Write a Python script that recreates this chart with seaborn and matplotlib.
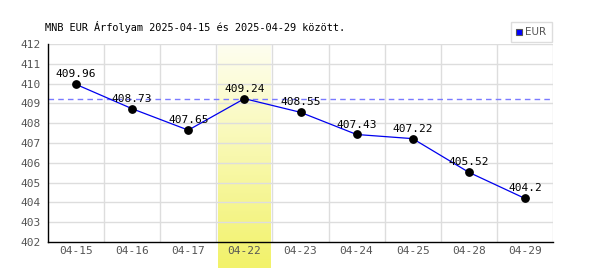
import numpy as np
import pandas as pd
import matplotlib
matplotlib.use("Agg")
import matplotlib.pyplot as plt
import seaborn as sns
from matplotlib.colors import LinearSegmentedColormap
from matplotlib.patches import Rectangle

dates = ["04-15", "04-16", "04-17", "04-22", "04-23", "04-24", "04-25", "04-28", "04-29"]
rates = [409.96, 408.73, 407.65, 409.24, 408.55, 407.43, 407.22, 405.52, 404.2]
point_labels = ["409.96", "408.73", "407.65", "409.24", "408.55", "407.43", "407.22", "405.52", "404.2"]
highlight = "04-22"
ref_value = 409.24
title = "MNB EUR Árfolyam 2025-04-15 és 2025-04-29 között."

sns.set_style("white")
plt.rcParams['font.family'] = ['DejaVu Sans Mono', 'DejaVu Sans']

df = pd.DataFrame({"pos": np.arange(len(dates)), "rate": rates})

fig = plt.figure(figsize=(6, 2.7), dpi=100)
ax = fig.add_axes([48/600, 1-242/270, 505/600, 198/270])

# highlight band with gradient (extends below axis)
hi = dates.index(highlight)
cmap = LinearSegmentedColormap.from_list("hl", ["#fefef0", "#f2f26a"])
grad = np.linspace(0, 1, 100).reshape(-1, 1)
ax.imshow(grad, aspect="auto", cmap=cmap, extent=(hi-0.47, hi+0.47, 400.7, 412),
          origin="upper", zorder=0, clip_on=False)
ax.set_xlim(-0.5, len(dates)-0.5)
ax.set_ylim(402, 412)

# grid
for y in range(403, 413):
    ax.axhline(y, color="#dddddd", lw=1, zorder=1)
for x in np.arange(0.5, len(dates), 1.0):
    ax.axvline(x, color="#dddddd", lw=1, zorder=1)

ax.axhline(ref_value, color="#7a7aff", lw=1, ls=(0, (4, 3)), zorder=2)

sns.lineplot(data=df, x="pos", y="rate", color="#0000ee", lw=0.9, ax=ax, zorder=3, legend=False)
ax.scatter(df["pos"], df["rate"], color="black", s=28, zorder=4)

for p, v, t in zip(df["pos"], rates, point_labels):
    ax.text(p, v + 0.25, t, ha="center", va="bottom", fontsize=8, color="black", zorder=5)

ax.set_xticks(df["pos"])
ax.set_xticklabels(dates)
ax.set_yticks(range(402, 413))
ax.tick_params(axis="x", labelsize=8, colors="#555555", length=0, pad=3)
ax.tick_params(axis="y", labelsize=8, colors="#555555", length=0, pad=5)
ax.set_xlabel("")
ax.set_ylabel("")
for s in ["top", "right"]:
    ax.spines[s].set_visible(False)
ax.spines["left"].set_color("black")
ax.spines["bottom"].set_color("black")
ax.spines["left"].set_linewidth(1)
ax.spines["bottom"].set_linewidth(1)

fig.text(45/600, 1-27/270, title, fontsize=7.4, color="black", va="center", ha="left")

# legend box
fig.patches.append(Rectangle((511/600, 1-42/270), 41/600, 20/270, transform=fig.transFigure,
                             facecolor="white", edgecolor="#dddddd", lw=1))
fig.patches.append(Rectangle((516/600, 1-35/270), 6/600, 6/270, transform=fig.transFigure,
                             facecolor="#0000ff", edgecolor="#555555", lw=0.8))
fig.text(525/600, 1-32/270, "EUR", fontsize=7.5, color="#555555", va="center", ha="left",
         family="DejaVu Sans")

fig.savefig("out.png", dpi=100)
